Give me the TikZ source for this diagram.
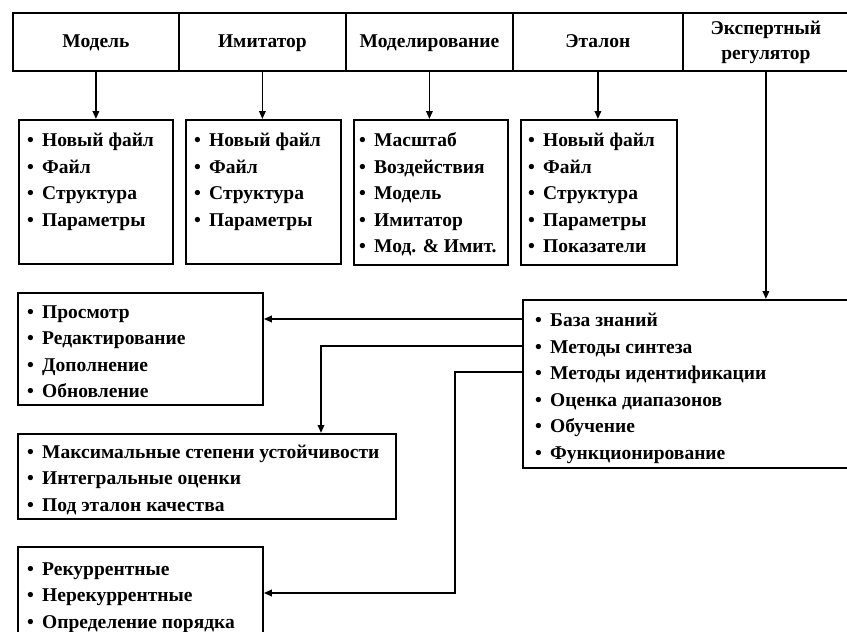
\documentclass[tikz,border=0pt]{standalone}
\usepackage{fontspec}
\setmainfont{Liberation Serif}
\usetikzlibrary{arrows.meta}
\newcommand{\bul}{•\hspace{0.42em}}
\begin{document}
\begin{tikzpicture}[x=1pt,y=-1pt,
  frame/.style={draw,line width=1.8pt,rectangle,inner sep=0pt,anchor=north west},
  head/.style={frame,minimum height=58pt},
  title/.style={inner sep=0pt,anchor=base,font=\fontsize{19.5}{26}\selectfont\bfseries},
  list/.style={inner sep=0pt,anchor=north west,align=left,
    font=\fontsize{19.5}{26.5}\selectfont\bfseries},
  arr/.style={line width=1.8pt,-{Triangle[length=8pt,width=6.5pt]}}]
\useasboundingbox (0,0) rectangle (847,632);
\clip (0,0) rectangle (847,632);

% header row
\node[head,minimum width=166pt] (hm)   at (12,12)  {};
\node[head,minimum width=167pt] (hi)   at (178,12) {};
\node[head,minimum width=167pt] (hmod) at (345,12) {};
\node[head,minimum width=170pt] (he)   at (512,12) {};
\node[head,minimum width=170pt] (hx)   at (682,12) {};
\node[title] (hmt)   at ([yshift=-6pt]hm.center)   {Модель};
\node[title] (hit)   at ([yshift=-6pt]hi.center)   {Имитатор};
\node[title] (hmodt) at ([yshift=-6pt]hmod.center) {Моделирование};
\node[title] (het)   at ([yshift=-6pt]he.center)   {Эталон};
\node[title] (hxt1)  at ([xshift=-2pt,yshift=7pt]hx.center)  {Экспертный};
\node[title] (hxt2)  at ([xshift=-2pt,yshift=-18pt]hx.center) {регулятор};

% second row of menus
\node[frame,minimum width=154pt,minimum height=144pt] (b1) at (18,119) {};
\node[frame,minimum width=155pt,minimum height=144pt] (b2) at (185,119) {};
\node[frame,minimum width=154pt,minimum height=145pt] (b3) at (353,119) {};
\node[frame,minimum width=156pt,minimum height=145pt] (b4) at (520,119) {};

\node[list] (t1) at ([xshift=9pt,yshift=-9pt]b1.north west)
  {\strut\bul Новый файл\\\bul Файл\\\bul Структура\\\bul Параметры};
\node[list] (t2) at ([xshift=9pt,yshift=-9pt]b2.north west)
  {\strut\bul Новый файл\\\bul Файл\\\bul Структура\\\bul Параметры};
\node[list] (t3) at ([xshift=6pt,yshift=-9pt]b3.north west)
  {\strut\bul Масштаб\\\bul Воздействия\\\bul Модель\\\bul Имитатор\\\bul Мод. \& Имит.};
\node[list] (t4) at ([xshift=8pt,yshift=-9pt]b4.north west)
  {\strut\bul Новый файл\\\bul Файл\\\bul Структура\\\bul Параметры\\\bul Показатели};

% expert controller menu
\node[frame,minimum width=330pt,minimum height=168pt] (ex) at (522,299) {};
\node[list] (tx) at ([xshift=13pt,yshift=-9pt]ex.north west)
  {\strut\bul База знаний\\\bul Методы синтеза\\\bul Методы идентификации\\
   \bul Оценка диапазонов\\\bul Обучение\\\bul Функционирование};

% submenus on the left
\node[frame,minimum width=245pt,minimum height=112pt] (l1) at (17,292) {};
\node[frame,minimum width=378pt,minimum height=85pt]  (l2) at (17,433) {};
\node[frame,minimum width=245pt,minimum height=100pt] (l3) at (17,546) {};

\node[list] (s1) at ([xshift=10pt,yshift=-7.5pt]l1.north west)
  {\strut\bul Просмотр\\\bul Редактирование\\\bul Дополнение\\\bul Обновление};
\node[list] (s2) at ([xshift=10pt,yshift=-6.5pt]l2.north west)
  {\strut\bul Максимальные степени устойчивости\\\bul Интегральные оценки\\\bul Под эталон качества};
\node[list] (s3) at ([xshift=10pt,yshift=-10.5pt]l3.north west)
  {\strut\bul Рекуррентные\\\bul Нерекуррентные\\\bul Определение порядка};

% vertical arrows from the header row
\draw[arr] (hm.south)   -- (hm.south |- b1.north);
\draw[arr] (hi.south)   -- (hi.south |- b2.north);
\draw[arr] (hmod.south) -- (hmod.south |- b3.north);
\draw[arr] (he.south)   -- (he.south |- b4.north);
\draw[arr] ([xshift=-2pt]hx.south) -- ([xshift=-2pt]hx.south |- ex.north);

% connections from the expert menu
\coordinate (p1) at (522,319);
\coordinate (p2) at (522,346);
\coordinate (p3) at (522,372);
\coordinate (k2) at (321,346);
\coordinate (k3) at (455,372);
\coordinate (k4) at (455,593);
\draw[arr] (p1) -- (p1 -| l1.east);
\draw[arr] (p2) -- (k2) -- (k2 |- l2.north);
\draw[arr] (p3) -- (k3) -- (k4) -- (k4 -| l3.east);
\end{tikzpicture}
\end{document}
